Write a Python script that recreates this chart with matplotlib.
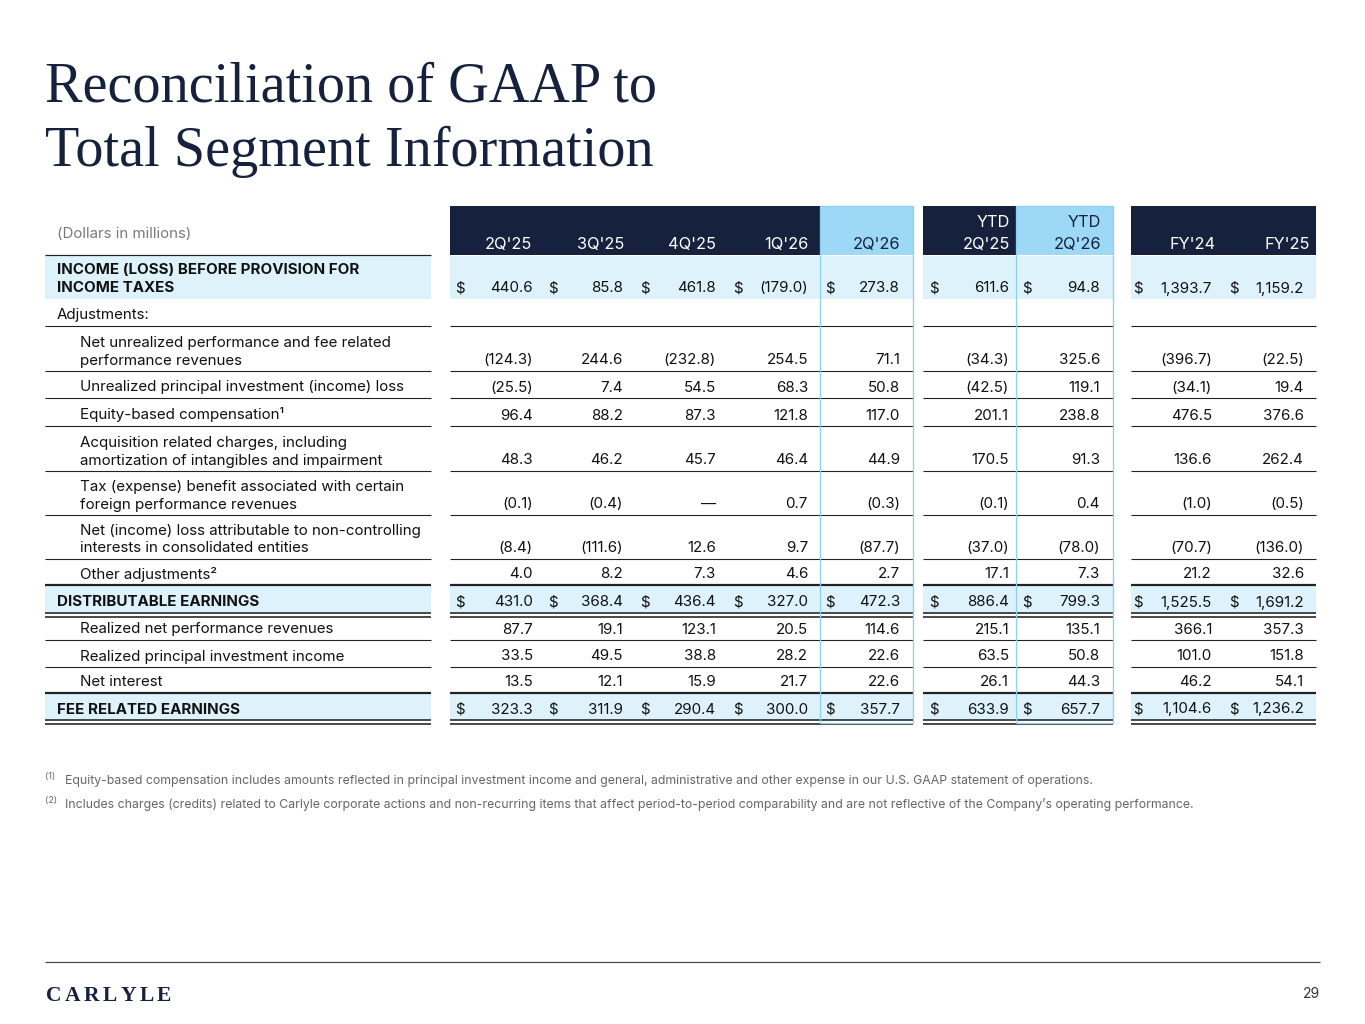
import matplotlib
matplotlib.use("Agg")
import matplotlib.pyplot as plt

# --- data -------------------------------------------------------------
columns = ["2Q'25", "3Q'25", "4Q'25", "1Q'26", "2Q'26",
           "YTD\n2Q'25", "YTD\n2Q'26", "FY'24", "FY'25"]

row_labels = [
    "INCOME (LOSS) BEFORE PROVISION FOR\nINCOME TAXES",
    "Adjustments:",
    "Net unrealized performance and fee related\nperformance revenues",
    "Unrealized principal investment (income) loss",
    "Equity-based compensation\u00b9",
    "Acquisition related charges, including\namortization of intangibles and impairment",
    "Tax (expense) benefit associated with certain\nforeign performance revenues",
    "Net (income) loss attributable to non-controlling\ninterests in consolidated entities",
    "Other adjustments\u00b2",
    "DISTRIBUTABLE EARNINGS",
    "Realized net performance revenues",
    "Realized principal investment income",
    "Net interest",
    "FEE RELATED EARNINGS",
]

income_before_tax = [440.6, 85.8, 461.8, -179.0, 273.8, 611.6, 94.8, 1393.7, 1159.2]
adjustments = [None] * 9
net_unrealized_perf = [-124.3, 244.6, -232.8, 254.5, 71.1, -34.3, 325.6, -396.7, -22.5]
unrealized_principal = [-25.5, 7.4, 54.5, 68.3, 50.8, -42.5, 119.1, -34.1, 19.4]
equity_comp = [96.4, 88.2, 87.3, 121.8, 117.0, 201.1, 238.8, 476.5, 376.6]
acquisition_charges = [48.3, 46.2, 45.7, 46.4, 44.9, 170.5, 91.3, 136.6, 262.4]
tax_benefit = [-0.1, -0.4, 0.0, 0.7, -0.3, -0.1, 0.4, -1.0, -0.5]
nci = [-8.4, -111.6, 12.6, 9.7, -87.7, -37.0, -78.0, -70.7, -136.0]
other_adjustments = [4.0, 8.2, 7.3, 4.6, 2.7, 17.1, 7.3, 21.2, 32.6]
distributable_earnings = [431.0, 368.4, 436.4, 327.0, 472.3, 886.4, 799.3, 1525.5, 1691.2]
realized_perf = [87.7, 19.1, 123.1, 20.5, 114.6, 215.1, 135.1, 366.1, 357.3]
realized_principal = [33.5, 49.5, 38.8, 28.2, 22.6, 63.5, 50.8, 101.0, 151.8]
net_interest = [13.5, 12.1, 15.9, 21.7, 22.6, 26.1, 44.3, 46.2, 54.1]
fee_related_earnings = [323.3, 311.9, 290.4, 300.0, 357.7, 633.9, 657.7, 1104.6, 1236.2]

row_values = [income_before_tax, adjustments, net_unrealized_perf, unrealized_principal,
              equity_comp, acquisition_charges, tax_benefit, nci, other_adjustments,
              distributable_earnings, realized_perf, realized_principal, net_interest,
              fee_related_earnings]

footnotes = [
    "Equity-based compensation includes amounts reflected in principal investment income and general, "
    "administrative and other expense in our U.S. GAAP statement of operations.",
    "Includes charges (credits) related to Carlyle corporate actions and non-recurring items that affect "
    "period-to-period comparability and are not reflective of the Company\u2019s operating performance.",
]

# --- styling / layout ---------------------------------------------------
NAVY = "#16213d"
HILITE = "#9dd8f6"
ROWBG = "#def2fc"
BOX = "#8fcff0"
LINE = "#222222"
FONT = "Inter"
BODY = 10.9

row_heights = [44, 27, 45, 27, 28, 45, 44, 44, 26, 28, 27, 27, 26, 27]
total_rows = {0, 9, 13}
bold_rows = {0, 9, 13}
plain_left = {1}
bottom_style = ["none", "thin", "thin", "thin", "thin", "thin", "thin", "thin",
                "thick", "double", "thin", "thin", "thick", "double"]

col_left = [450, 543, 635, 728, 820, 923, 1016, 1131, 1223]
col_right = [543, 635, 728, 820, 913, 1016, 1113, 1223, 1316]
val_right = [533, 623, 716, 808, 900, 1009, 1100, 1212, 1304]
dollar_x = [455, 548, 640, 733, 825, 929, 1022, 1133, 1229]
head_right = [532, 624, 716, 808, 900, 1010, 1101, 1216, 1310]
groups = [(450, 913), (923, 1113), (1131, 1316)]
label_span = (45, 431)
highlight_cols = [4, 6]
head_top, head_bot = 206, 255

plt.rcParams['font.family'] = [FONT, 'DejaVu Sans']

fig = plt.figure(figsize=(13.65, 10.24), dpi=100)
ax = fig.add_axes([0, 0, 1, 1])
ax.set_xlim(0, 1365)
ax.set_ylim(1024, 0)
ax.axis('off')

PX = 0.72  # points per pixel


def hline(x0, x1, y, w=1.0, c=LINE):
    ax.plot([x0, x1], [y, y], color=c, lw=w * PX, solid_capstyle='butt', zorder=4)


def rect(x0, y0, x1, y1, color, z=1):
    ax.add_patch(plt.Rectangle((x0, y0), x1 - x0, y1 - y0, facecolor=color,
                               edgecolor='none', zorder=z))


# title, sized so both lines roughly match the slide width
renderer = fig.canvas.get_renderer()
title_lines = ["Reconciliation of GAAP to", "Total Segment Information"]
t1 = ax.text(45, 101, title_lines[0], fontsize=44, family='Liberation Serif',
             color=NAVY, ha='left', va='baseline')
t2 = ax.text(45, 166, title_lines[1], fontsize=44, family='Liberation Serif',
             color=NAVY, ha='left', va='baseline')
w1 = t1.get_window_extent(renderer).width
w2 = t2.get_window_extent(renderer).width
size = 44 * (598 + 623) / (w1 + w2)
t1.set_fontsize(size)
t2.set_fontsize(size)

# header band
for g0, g1 in groups:
    rect(g0, head_top, g1, head_bot, NAVY)
for c in highlight_cols:
    rect(col_left[c], head_top, col_right[c], head_bot, HILITE, z=2)
for i, name in enumerate(columns):
    color = NAVY if i in highlight_cols else "white"
    parts = name.split("\n")
    for k, p in enumerate(reversed(parts)):
        ax.text(head_right[i], 249 - 22 * k, p, fontsize=11.8, color=color,
                ha='right', va='baseline', zorder=5)
ax.text(57, 238, "(Dollars in millions)", fontsize=10.8, color="#7a7a7a",
        ha='left', va='baseline')
hline(label_span[0], label_span[1], head_bot, 1.2)

# rows
y = head_bot
for r, label in enumerate(row_labels):
    top, bot = y, y + row_heights[r]
    y = bot
    if r in total_rows:
        rect(label_span[0], top + 1, label_span[1], bot, ROWBG)
        for g0, g1 in groups:
            rect(g0, top + 1, g1, bot, ROWBG)
    base = bot - 6.5
    lines = label.split("\n")
    x = 57 if (r in bold_rows or r in plain_left) else 80
    for k, ln in enumerate(reversed(lines)):
        ax.text(x, base - 18 * k, ln, fontsize=BODY, color="#111111",
                fontweight='bold' if r in bold_rows else 'normal',
                ha='left', va='baseline', zorder=5)
    for c, v in enumerate(row_values[r]):
        if v is None:
            continue
        if v == 0:
            s = "\u2014"
        elif v < 0:
            s = f"({abs(v):,.1f})"
        else:
            s = f"{v:,.1f}"
        ax.text(val_right[c], base, s, fontsize=BODY, color="#111111",
                ha='right', va='baseline', zorder=5)
        if r in total_rows:
            ax.text(dollar_x[c], base, "$", fontsize=BODY, color="#111111",
                    ha='left', va='baseline', zorder=5)
    style = bottom_style[r]
    spans = [label_span] + groups
    for s0, s1 in spans:
        if style == "thin":
            hline(s0, s1, bot, 1.1)
        elif style == "thick":
            hline(s0, s1, bot, 2.2)
        elif style == "double":
            hline(s0, s1, bot, 1.6)
            hline(s0, s1, bot + 3.5, 1.6)

table_bot = y + 3
# highlight column outlines
for c in highlight_cols:
    ax.add_patch(plt.Rectangle((col_left[c], head_top), col_right[c] - col_left[c],
                               table_bot - head_top, facecolor='none',
                               edgecolor=BOX, lw=1.3 * PX, zorder=6))

# footnotes
for i, note in enumerate(footnotes):
    yy = 784 + 24 * i
    ax.text(45, yy - 5, f"({i + 1})", fontsize=6.5, color="#666666",
            ha='left', va='baseline')
    ax.text(65, yy, note, fontsize=8.85, color="#666666", ha='left', va='baseline')

# footer
hline(45, 1320, 962, 1.2, "#444444")
letters = "CARLYLE"
lx = 46
for ch in letters:
    tt = ax.text(lx, 1001, ch, fontsize=15.5, family='Liberation Serif',
                 fontweight='bold', color=NAVY, ha='left', va='baseline')
    w = tt.get_window_extent(renderer).width
    lx += w + 3.4
ax.text(1320, 998, "29", fontsize=10, color="#333333", ha='right', va='baseline')

fig.savefig("out.png", dpi=100)
